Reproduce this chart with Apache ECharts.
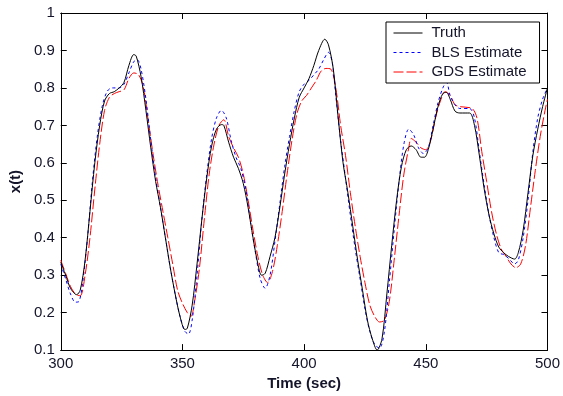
<!DOCTYPE html>
<html>
<head>
<meta charset="utf-8">
<script src="https://cdn.jsdelivr.net/npm/echarts@6/dist/echarts.min.js"></script>
<style>html,body{margin:0;padding:0;background:#fff}#c{width:563px;height:396px}</style>
</head>
<body>
<div id="c"></div>
<script>
var xTicks = [300, 350, 400, 450, 500];
var yTicks = [0.1, 0.2, 0.3, 0.4, 0.5, 0.6, 0.7, 0.8, 0.9, 1];
var seriesNames = ['Truth', 'BLS Estimate', 'GDS Estimate'];

var truthTime = [300,302,304,306.5,308,310,312,314,316,318,320,322,324,326,328,330,331,333,335,337,339,341,343,345,347,349,351,352,354,356,358,360,362,364,366,367,369,371,373,375,377,379,381,382.5,384,386,388,390,392,394,396,398,400,402,404,406,408.5,410,412,414,416,418,420,422,424,426,428,430,432,434,436,438,440,442,444,446,448,449.5,451,453,455,457,458.5,460,462,464,468,470,472,474,476,478,480,482,484,486.5,488,490,492,494,496,498,500];
var truthValue = [0.335,0.30,0.265,0.248,0.26,0.34,0.47,0.60,0.70,0.765,0.785,0.79,0.80,0.815,0.86,0.889,0.885,0.83,0.74,0.64,0.55,0.48,0.40,0.32,0.25,0.19,0.155,0.158,0.22,0.33,0.45,0.56,0.645,0.69,0.702,0.70,0.655,0.615,0.585,0.545,0.48,0.40,0.33,0.30,0.305,0.35,0.40,0.48,0.57,0.65,0.72,0.775,0.80,0.825,0.86,0.90,0.93,0.915,0.85,0.72,0.60,0.52,0.43,0.34,0.26,0.18,0.13,0.10,0.13,0.25,0.38,0.50,0.59,0.635,0.645,0.635,0.615,0.615,0.635,0.69,0.75,0.785,0.788,0.77,0.738,0.733,0.733,0.70,0.62,0.53,0.46,0.41,0.375,0.36,0.35,0.343,0.36,0.42,0.52,0.62,0.69,0.75,0.80];

var blsTime = [300,302,304,306,307.5,309,311,313,315,317,319,321,324,326,328,330,331.5,333,335,337,339,341,343,345,347,349,351,352.5,354,356,358,360,362,364,366,368,370,372,374,376,378,380,382,384,386,388,390,392,394,396,398,400,402,404,406,408,410,411.5,413,415,417,419,421,423,425,427,429,431,433,435,437,439,441,443,445,447,449,451,453,455,457,458.5,460,462,464,468,470,472,474,476,478,480,482,484,486.5,488,490,492,494,496,498,500];
var blsValue = [0.33,0.29,0.25,0.228,0.23,0.28,0.40,0.55,0.67,0.75,0.79,0.80,0.80,0.81,0.84,0.87,0.875,0.85,0.77,0.66,0.56,0.48,0.40,0.32,0.25,0.19,0.15,0.143,0.18,0.30,0.45,0.57,0.665,0.72,0.74,0.72,0.66,0.615,0.585,0.53,0.44,0.36,0.29,0.265,0.30,0.39,0.49,0.59,0.67,0.74,0.79,0.81,0.82,0.835,0.85,0.875,0.895,0.87,0.78,0.66,0.56,0.46,0.37,0.29,0.21,0.15,0.115,0.105,0.15,0.28,0.42,0.55,0.65,0.69,0.675,0.64,0.625,0.64,0.70,0.76,0.80,0.815,0.78,0.755,0.745,0.745,0.72,0.63,0.54,0.46,0.40,0.36,0.355,0.345,0.33,0.34,0.40,0.50,0.63,0.72,0.77,0.80];

var gdsTime = [300,302,304,306,308,310,312,314,316,318,320,322,324,326,328,330,332,334,336,338,340,342,344,346,348,350,352,353.5,355,357,359,361,363,365,367,369,371,373,375,377,379,381,383,385,387,389,391,393,395,397,399,401,403,405,407,409,411,413,415,417,419,421,423,425,427,429,431,433,435,437,439,441,443,444,446,448,450,452,454,456,458,460,462,464,469,471,473,475,477,479,481,483,485,487,489,491,493,495,497,499,500];
var gdsValue = [0.34,0.305,0.27,0.25,0.245,0.30,0.40,0.53,0.65,0.74,0.775,0.785,0.79,0.795,0.825,0.84,0.835,0.80,0.71,0.62,0.54,0.47,0.40,0.33,0.26,0.225,0.20,0.19,0.23,0.32,0.45,0.57,0.65,0.70,0.715,0.67,0.64,0.615,0.57,0.50,0.42,0.35,0.30,0.28,0.31,0.38,0.47,0.57,0.66,0.73,0.765,0.78,0.80,0.82,0.845,0.852,0.85,0.80,0.70,0.62,0.52,0.43,0.35,0.28,0.22,0.19,0.175,0.18,0.23,0.34,0.46,0.57,0.64,0.665,0.655,0.64,0.635,0.66,0.72,0.765,0.79,0.78,0.755,0.75,0.745,0.72,0.63,0.55,0.47,0.41,0.37,0.35,0.33,0.32,0.33,0.38,0.48,0.58,0.67,0.74,0.77];

function zip(t, v) { return t.map(function (x, i) { return [x, v[i]]; }); }

var FONT = 'Liberation Sans, Arial, sans-serif';
var TXT = '#14142a';

var chart = echarts.init(document.getElementById('c'), null, { renderer: 'canvas' });

function xAx(pos, show) {
  return {
    type: 'value', position: pos, min: xTicks[0], max: xTicks[xTicks.length - 1], interval: 50,
    axisLine: { show: true, onZero: false, lineStyle: { color: '#000', width: 1 } },
    axisTick: { show: true, inside: true, length: 6, lineStyle: { color: '#000' } },
    axisLabel: { show: show, margin: 6, color: TXT, fontSize: 15, fontFamily: FONT },
    splitLine: { show: false }
  };
}
function yAx(pos, show) {
  return {
    type: 'value', position: pos, min: yTicks[0], max: yTicks[yTicks.length - 1], interval: 0.1,
    axisLine: { show: true, onZero: false, lineStyle: { color: '#000', width: 1 } },
    axisTick: { show: true, inside: true, length: 6, lineStyle: { color: '#000' } },
    axisLabel: { show: show, margin: 6, color: TXT, fontSize: 15, fontFamily: FONT,
      formatter: function (v) { return String(Math.round(v * 10) / 10); } },
    splitLine: { show: false }
  };
}

var xa = xAx('bottom', true);
xa.name = 'Time (sec)'; xa.nameLocation = 'middle'; xa.nameGap = 25;
xa.nameTextStyle = { color: TXT, fontSize: 15, fontWeight: 'bold', fontFamily: FONT };
var ya = yAx('left', true);
ya.name = 'x(t)'; ya.nameLocation = 'middle'; ya.nameGap = 36;
ya.nameTextStyle = { color: TXT, fontSize: 15, fontWeight: 'bold', fontFamily: FONT };

chart.setOption({
  animation: false,
  backgroundColor: '#fff',
  grid: { left: 60, right: 12, top: 13, bottom: 44, containLabel: false },
  xAxis: [xa, xAx('top', false)],
  yAxis: [ya, yAx('right', false)],
  legend: {
    data: seriesNames,
    orient: 'vertical', left: 386, top: 22,
    backgroundColor: '#fff', borderColor: '#000', borderWidth: 1, borderRadius: 0,
    padding: [3, 13, 3, 7],
    itemWidth: 29, itemHeight: 14, itemGap: 3.5,
    itemStyle: { opacity: 0 },
    lineStyle: { width: 1 },
    textStyle: { color: TXT, fontSize: 15, fontFamily: FONT, lineHeight: 16, padding: [0, 0, 0, 4] }
  },
  series: [
    { name: seriesNames[0], type: 'line', data: zip(truthTime, truthValue), smooth: 0.3, symbol: 'none', showSymbol: false,
      lineStyle: { color: '#000', width: 1 }, itemStyle: { color: '#000' }, z: 3 },
    { name: seriesNames[1], type: 'line', data: zip(blsTime, blsValue), smooth: 0.3, symbol: 'none', showSymbol: false,
      lineStyle: { color: '#0000ff', width: 1, type: [3, 3] }, itemStyle: { color: '#0000ff' }, z: 2 },
    { name: seriesNames[2], type: 'line', data: zip(gdsTime, gdsValue), smooth: 0.3, symbol: 'none', showSymbol: false,
      lineStyle: { color: '#ff0000', width: 1, type: [10, 3] }, itemStyle: { color: '#ff0000' }, z: 1 }
  ]
});
</script>
</body>
</html>
